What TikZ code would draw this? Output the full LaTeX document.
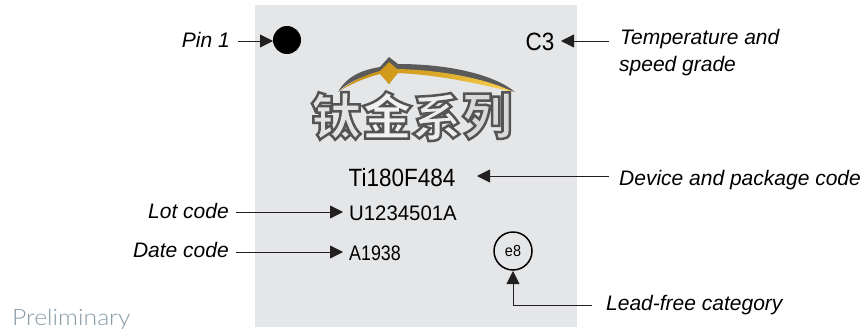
\documentclass[tikz,border=0pt]{standalone}
\usepackage{fontspec}
\usetikzlibrary{arrows.meta}
\setmainfont{Liberation Sans}
\newfontfamily\condfont[FakeStretch=0.9]{Liberation Sans}
\newfontfamily\lotfont[FakeStretch=0.97]{Liberation Sans}
\newfontfamily\datefont[FakeStretch=0.85]{Liberation Sans}
\newfontfamily\prelimfont[FakeStretch=1.1]{Lato Light}
\newfontfamily\logofont[FakeBold=5]{Noto Sans CJK SC Black}
\definecolor{chip}{HTML}{E5E6E8}
\definecolor{ink}{HTML}{231F20}
\definecolor{prelim}{HTML}{879BA6}
\definecolor{logodark}{HTML}{5A5A5A}
\definecolor{goldA}{HTML}{C98F12}
\definecolor{goldB}{HTML}{FAD350}
\newcommand{\logochar}[1]{\special{pdf:code 0.33 0.33 0.33 RG}#1}
\tikzset{
  x=1pt,y=-1pt,
  lab/.style={font=\fontsize{21}{24}\selectfont\itshape,text=black,inner sep=0pt},
  code/.style={text=black,inner sep=0pt,anchor=west},
  big/.style={font=\condfont\fontsize{25}{28}\selectfont,text=black,inner sep=0pt},
  conn/.style={draw=ink,line width=0.8pt,-{Triangle[length=13pt,width=13pt]}},
  logochr/.style={font=\logofont\fontsize{50}{54}\selectfont,inner sep=0pt}
}
\begin{document}
\begin{tikzpicture}
\useasboundingbox (0,0) rectangle (868,335);
\fill[chip] (255,5) rectangle (577,327);
% swoosh
\fill[logodark] (338,92) .. controls (347,76) and (362,70) .. (380,67) -- (389,57) -- (398,64)
  .. controls (450,64) and (495,75) .. (515,92)
  .. controls (480,80) and (440,72) .. (398,71) -- (389,84) -- (380,73)
  .. controls (362,76) and (348,82) .. (338,92) -- cycle;
\shade[left color=goldA,right color=goldB,middle color=goldA!70!goldB]
  (340,91) .. controls (350,82) and (365,75) .. (380,71) -- (389,62) -- (397,69)
  .. controls (445,70) and (490,80) .. (513,92)
  .. controls (480,84) and (440,75) .. (398,73) -- (389,84) -- (380,74)
  .. controls (365,78) and (350,84) .. (340,91) -- cycle;
% logo characters
\foreach \nm/\ch/\px/\py/\col in {a/钛/336/116/gray!22, b/金/387/115/gray!10, c/系/437/117/gray!14, d/列/487/116/gray!30}{
  \node[logochr,text=\col] (logo\nm) at (\px,\py) {\logochar{\ch}};
}
% markings
\node[circle,fill=black,minimum size=28pt,inner sep=0pt] (pin) at (287,40) {};
\node[big,anchor=center] (c3) at (540,42) {C3};
\node[big,anchor=center] (dev) at (402,178) {Ti180F484};
\node[code,font=\lotfont\fontsize{21}{24}\selectfont] (lot) at (349,213) {U1234501A};
\node[code,font=\datefont\fontsize{21}{24}\selectfont] (date) at (349,253) {A1938};
\node[circle,draw=black,line width=1.5pt,minimum size=38pt,inner sep=0pt,font=\condfont\fontsize{16}{18}\selectfont] (cat) at (513,251) {e8};
% labels
\node[lab,anchor=east] (lpin) at (230,40) {Pin 1};
\node[lab,anchor=west] (ltemp) at (620,39) {Temperature and};
\node[lab,anchor=west] (lspeed) at (619,66) {speed grade};
\node[lab,anchor=west] (ldev) at (619,180) {Device and package code};
\node[lab,anchor=east] (llot) at (229,211) {Lot code};
\node[lab,anchor=east] (ldate) at (229,250) {Date code};
\node[lab,anchor=west] (llead) at (606,305) {Lead-free category};
\node[font=\prelimfont\fontsize{22.5}{26}\selectfont,text=prelim,inner sep=0pt,anchor=west] (prelim) at (12,319) {Preliminary};
% connector ends
\coordinate (a1) at (238,41); \coordinate (a1t) at (273,41);
\coordinate (a2) at (609,41); \coordinate (a2t) at (561,41);
\coordinate (a3) at (609,176); \coordinate (a3t) at (477,176);
\coordinate (a4) at (236,212); \coordinate (a4t) at (343,212);
\coordinate (a5) at (236,252); \coordinate (a5t) at (343,252);
\coordinate (a6) at (592,305); \coordinate (a6t) at (513,271);
\draw[conn] (a1) -- (a1t);
\draw[conn] (a2) -- (a2t);
\draw[conn] (a3) -- (a3t);
\draw[conn] (a4) -- (a4t);
\draw[conn] (a5) -- (a5t);
\draw[conn] (a6) -| (a6t);
\end{tikzpicture}
\end{document}
